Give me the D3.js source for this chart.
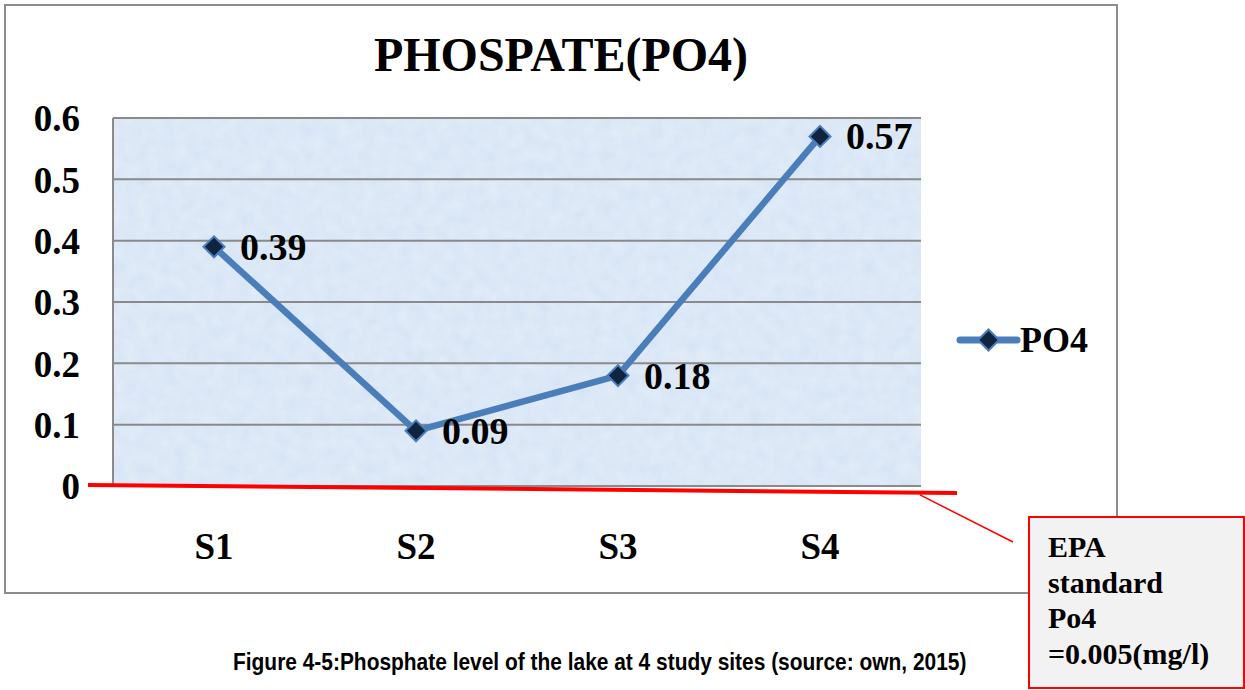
<!DOCTYPE html>
<html>
<head>
<meta charset="utf-8">
<script src="https://cdn.jsdelivr.net/npm/d3@7"></script>
<style>
  body { margin: 0; background: #fff; }
  svg { display: block; }
</style>
</head>
<body>
<div id="chart"></div>
<script>
// Daten
const sites = ["S1", "S2", "S3", "S4"];
const po4Values = [0.39, 0.09, 0.18, 0.57];
const yTicks = [0, 0.1, 0.2, 0.3, 0.4, 0.5, 0.6];
const epaStandard = 0.005;
const titleText = "PHOSPATE(PO4)";
const seriesName = "PO4";
const calloutLines = ["EPA", "standard", "Po4", "=0.005(mg/l)"];
const captionText = "Figure 4-5:Phosphate level of the lake at 4 study sites (source: own, 2015)";

const width = 1245, height = 690;
const serif = "'Liberation Serif', 'Times New Roman', serif";

const svg = d3.select("#chart").append("svg")
  .attr("width", width)
  .attr("height", height);

// Hintergrund-Textur für Plotbereich
const defs = svg.append("defs");
const filter = defs.append("filter").attr("id", "paper")
  .attr("x", 0).attr("y", 0).attr("width", "100%").attr("height", "100%");
filter.append("feTurbulence")
  .attr("type", "fractalNoise").attr("baseFrequency", 0.08)
  .attr("numOctaves", 2).attr("seed", 3).attr("result", "noise");
filter.append("feColorMatrix").attr("in", "noise").attr("type", "matrix")
  .attr("values", "0 0 0 0 0.93  0 0 0 0 0.96  0 0 0 0 1  0 0 0 0.45 0")
  .attr("result", "tint");
filter.append("feComposite").attr("in", "tint").attr("in2", "SourceGraphic").attr("operator", "atop");

// äußerer Rahmen
svg.append("rect")
  .attr("x", 5).attr("y", 5)
  .attr("width", 1112).attr("height", 588)
  .attr("fill", "#fff")
  .attr("stroke", "#8c8c8c")
  .attr("stroke-width", 2);

const plot = { left: 113, right: 921, top: 118, bottom: 486 };

const x = d3.scaleBand()
  .domain(sites)
  .range([plot.left, plot.right]);

const y = d3.scaleLinear()
  .domain([0, 0.6])
  .range([plot.bottom, plot.top]);

// Plotfläche
svg.append("rect")
  .attr("x", plot.left).attr("y", plot.top)
  .attr("width", plot.right - plot.left)
  .attr("height", plot.bottom - plot.top)
  .attr("fill", "#d3e2f4")
  .attr("filter", "url(#paper)");

// Gitterlinien
svg.append("g")
  .selectAll("line")
  .data(yTicks)
  .enter()
  .append("line")
  .attr("x1", plot.left).attr("x2", plot.right)
  .attr("y1", d => y(d)).attr("y2", d => y(d))
  .attr("stroke", "#8a8a8a")
  .attr("stroke-width", 2);

// linke Kante
svg.append("line")
  .attr("x1", plot.left).attr("x2", plot.left)
  .attr("y1", plot.top).attr("y2", plot.bottom)
  .attr("stroke", "#8a8a8a").attr("stroke-width", 2);

// Y-Achse
const yAxis = svg.append("g")
  .attr("transform", `translate(${plot.left - 33},0)`)
  .call(d3.axisLeft(y).tickValues(yTicks).tickSize(0).tickPadding(0)
    .tickFormat(d => d === 0 ? "0" : d3.format(".1f")(d)));
yAxis.select(".domain").remove();
yAxis.selectAll("text")
  .attr("dy", "0.35em")
  .style("font-family", serif)
  .style("font-weight", "bold")
  .style("font-size", "37px")
  .style("fill", "#000");

// X-Achse
const xAxis = svg.append("g")
  .attr("transform", `translate(0,${plot.bottom + 45})`)
  .call(d3.axisBottom(x).tickSize(0).tickPadding(0));
xAxis.select(".domain").remove();
xAxis.selectAll("text")
  .attr("dy", "0.75em")
  .style("font-family", serif)
  .style("font-weight", "bold")
  .style("font-size", "37px")
  .style("fill", "#000");

// EPA-Linie (rot)
const epaY = y(epaStandard);
svg.append("line")
  .attr("x1", plot.left - 25).attr("y1", epaY + 2)
  .attr("x2", plot.right + 36).attr("y2", epaY + 10)
  .attr("stroke", "#ff0000")
  .attr("stroke-width", 4);

// Linie
const line = d3.line()
  .x((d, i) => x(sites[i]) + x.bandwidth() / 2)
  .y(d => y(d));

svg.append("path")
  .datum(po4Values)
  .attr("d", line)
  .attr("fill", "none")
  .attr("stroke", "#4a7ebb")
  .attr("stroke-width", 6.5)
  .attr("stroke-linejoin", "round");

// Markierungen (Rauten)
const diamond = d3.symbol().type(d3.symbolSquare).size(220);
svg.append("g")
  .selectAll("path")
  .data(po4Values)
  .enter()
  .append("path")
  .attr("d", diamond)
  .attr("transform", (d, i) => `translate(${x(sites[i]) + x.bandwidth() / 2},${y(d)}) rotate(45)`)
  .attr("fill", "#10243f")
  .attr("stroke", "#4a7ebb")
  .attr("stroke-width", 2);

// Datenbeschriftungen
svg.append("g")
  .selectAll("text")
  .data(po4Values)
  .enter()
  .append("text")
  .attr("x", (d, i) => x(sites[i]) + x.bandwidth() / 2 + 26)
  .attr("y", d => y(d) + 13)
  .style("font-family", serif)
  .style("font-weight", "bold")
  .style("font-size", "38px")
  .text(d => d3.format(".2f")(d));

// Titel
svg.append("text")
  .attr("x", 561)
  .attr("y", 71)
  .attr("text-anchor", "middle")
  .style("font-family", serif)
  .style("font-weight", "bold")
  .style("font-size", "48px")
  .text(titleText);

// Legende
const legend = svg.append("g").attr("transform", "translate(960,340)");
legend.append("line")
  .attr("x1", 0).attr("x2", 57)
  .attr("stroke", "#4a7ebb").attr("stroke-width", 7)
  .attr("stroke-linecap", "round");
legend.append("path")
  .attr("d", diamond)
  .attr("transform", "translate(28.5,0) rotate(45)")
  .attr("fill", "#10243f")
  .attr("stroke", "#4a7ebb")
  .attr("stroke-width", 2);
legend.append("text")
  .attr("x", 60).attr("y", 12)
  .style("font-family", serif)
  .style("font-weight", "bold")
  .style("font-size", "36px")
  .text(seriesName);

// Callout-Verbindung
svg.append("line")
  .attr("x1", plot.right - 1).attr("y1", epaY + 12)
  .attr("x2", 1013).attr("y2", 542)
  .attr("stroke", "#ff0000")
  .attr("stroke-width", 1.5);

// Callout-Box
svg.append("rect")
  .attr("x", 1029).attr("y", 517)
  .attr("width", 215).attr("height", 171)
  .attr("fill", "#f2f2f2")
  .attr("stroke", "#ff0000")
  .attr("stroke-width", 2);

svg.append("g")
  .selectAll("text")
  .data(calloutLines)
  .enter()
  .append("text")
  .attr("x", 1048)
  .attr("y", (d, i) => 557 + i * 35.5)
  .style("font-family", serif)
  .style("font-weight", "bold")
  .style("font-size", "30px")
  .text(d => d);

// Bildunterschrift (schmale Schrift per horizontaler Skalierung)
const caption = svg.append("text")
  .attr("x", 0)
  .attr("y", 0)
  .style("font-family", "'Liberation Sans Narrow', 'Arial Narrow', 'Liberation Sans', sans-serif")
  .style("font-weight", "bold")
  .style("font-size", "24px")
  .text(captionText);
const captionWidth = 734;
const sx = captionWidth / caption.node().getComputedTextLength();
caption.attr("transform", `translate(233,670) scale(${sx},1)`);
</script>
</body>
</html>
